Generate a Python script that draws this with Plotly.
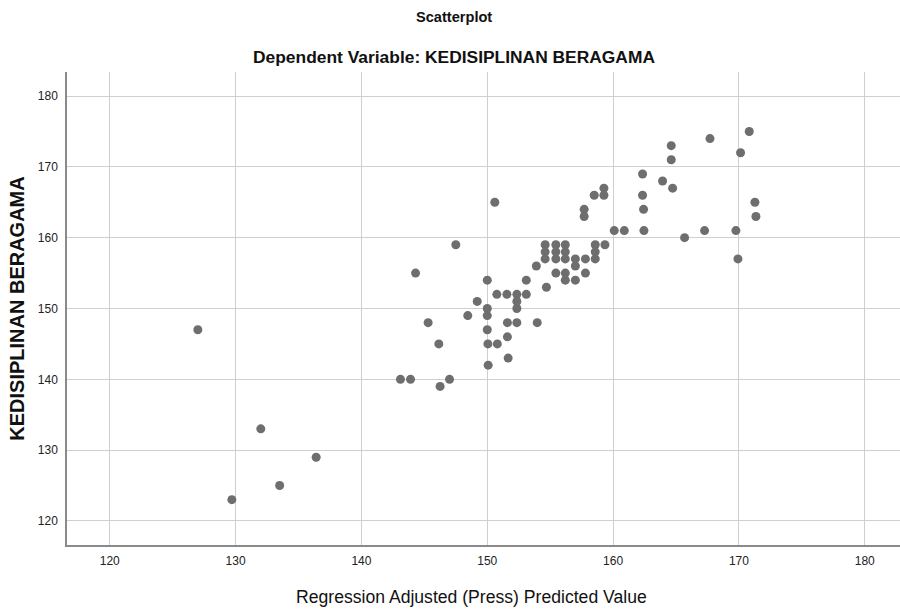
import plotly.graph_objects as go

predicted = [127.0, 129.7, 132.0, 133.5, 136.4, 143.1, 143.9, 144.3, 145.3, 146.15,
             146.25, 147.0, 147.5, 148.45, 149.2, 150.0, 150.0, 150.0, 150.0, 150.05,
             150.07, 150.6, 150.8, 150.76, 151.56, 151.6, 151.6, 151.66, 152.35, 152.35,
             152.35, 152.35, 153.1, 153.1, 153.9, 153.97, 154.7, 154.6, 154.6, 154.6,
             155.45, 155.45, 155.45, 155.45, 156.2, 156.2, 156.2, 156.2, 156.2, 157.0,
             157.0, 157.0, 157.7, 157.7, 157.8, 157.8, 158.5, 158.58, 158.58, 158.58,
             159.27, 159.27, 159.35, 160.09, 160.89, 162.34, 162.34, 162.42, 162.45, 163.93,
             164.62, 164.62, 164.73, 165.68, 167.27, 167.7, 169.76, 169.92, 170.13, 170.82,
             171.27, 171.35]
observed = [147, 123, 133, 125, 129, 140, 140, 155, 148, 145,
            139, 140, 159, 149, 151, 154, 150, 149, 147, 145,
            142, 165, 145, 152, 152, 148, 146, 143, 152, 151,
            150, 148, 154, 152, 156, 148, 153, 159, 158, 157,
            159, 158, 157, 155, 159, 158, 157, 155, 154, 157,
            156, 154, 164, 163, 157, 155, 166, 159, 158, 157,
            167, 166, 159, 161, 161, 169, 166, 164, 161, 168,
            173, 171, 167, 160, 161, 174, 161, 157, 172, 175,
            165, 163]

tick_vals = [120, 130, 140, 150, 160, 170, 180]

fig = go.Figure()
fig.add_trace(go.Scatter(
    x=predicted, y=observed, mode="markers",
    marker=dict(size=9, color="#6e6e6e", line=dict(width=0)),
    showlegend=False,
))

axis_common = dict(
    showgrid=True, gridcolor="#cfcfcf", gridwidth=1,
    showline=True, linecolor="#8a8a8a", linewidth=1.5,
    zeroline=False, ticks="", tickvals=tick_vals, automargin=False,
    tickfont=dict(family="Liberation Sans, Arial", size=12, color="#222222"),
)

fig.update_layout(
    width=900, height=609,
    margin=dict(l=67, r=0, t=72, b=64),
    paper_bgcolor="white", plot_bgcolor="white",
    xaxis=dict(range=[116.6, 182.8], ticklabelstandoff=4, **axis_common),
    yaxis=dict(range=[116.6, 183.4], ticklabelstandoff=5,
               title=dict(text="<b>KEDISIPLINAN BERAGAMA</b>",
                          font=dict(family="Liberation Sans, Arial", size=20, color="#111111"),
                          standoff=8),
               **axis_common),
    annotations=[
        dict(text="<b>Scatterplot</b>", xref="paper", yref="paper", x=0.4646, y=1,
             yshift=55, showarrow=False, xanchor="center", yanchor="middle",
             font=dict(family="Liberation Sans, Arial", size=14.6, color="#111111")),
        dict(text="<b>Dependent Variable: KEDISIPLINAN BERAGAMA</b>", xref="paper", yref="paper",
             x=0.4646, y=1, yshift=15, showarrow=False, xanchor="center", yanchor="middle",
             font=dict(family="Liberation Sans, Arial", size=17.4, color="#111111")),
        dict(text="Regression Adjusted (Press) Predicted Value", xref="paper", yref="paper",
             x=0.486, y=0, yshift=-52, showarrow=False, xanchor="center", yanchor="middle",
             font=dict(family="Liberation Sans, Arial", size=17.6, color="#111111")),
    ],
)

fig.write_html("out.html", config={"displayModeBar": False},
               post_script="document.body.style.margin='0';")
